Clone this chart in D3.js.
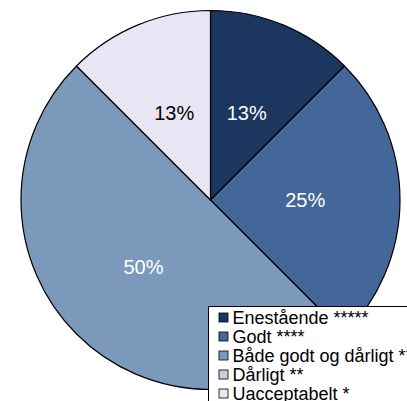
<!DOCTYPE html>
<html>
<head>
<meta charset="utf-8">
<script src="https://cdn.jsdelivr.net/npm/d3@7"></script>
<style>
  body { margin: 0; background: #ffffff; }
  svg { display: block; font-family: Arial, "Liberation Sans", sans-serif; }
</style>
</head>
<body>
<svg id="svg"></svg>
<script>
var categories = ["Enestående *****", "Godt ****", "Både godt og dårligt ***", "Dårligt **", "Uacceptabelt *"];
var values     = [12.5, 25, 50, 0, 12.5];
var labels     = ["13%", "25%", "50%", "", "13%"];
var colors     = ["#1b365f", "#44679a", "#7b9abb", "#c3d0e2", "#e8e6f4"];
var label_fill = ["#ffffff", "#ffffff", "#ffffff", "#000000", "#000000"];

var outer_width  = 407;
var outer_height = 401;
var cx = 210.5, cy = 200, radius = 189.5;

var svg = d3.select("#svg")
	    .attr("width",  outer_width)
	    .attr("height", outer_height);

var data = categories.map(function(c, i) { return {name: c, value: values[i], label: labels[i], i: i}; });

var pie = d3.pie()
	    .sort(null)
	    .value(function(d) { return d.value; });

var arc = d3.arc()
	    .innerRadius(0)
	    .outerRadius(radius);

var label_arc = d3.arc()
	    .innerRadius(radius * 0.5)
	    .outerRadius(radius * 0.5);

var Pie = svg.append("g")
	    .attr("transform", "translate(" + cx + "," + cy + ")");

var arcs = pie(data).filter(function(a) { return a.data.value > 0; });

Pie.selectAll(".slice")
	.data(arcs)
	.enter()
	.append("path")
	.attr("class", "slice")
	.attr("d", arc)
	.attr("fill", function(a) { return colors[a.data.i]; })
	.attr("stroke", "#000000")
	.attr("stroke-width", 1.2)
	.attr("stroke-linejoin", "round");

Pie.selectAll(".lbl")
	.data(arcs)
	.enter()
	.append("text")
	.attr("class", "lbl")
	.attr("transform", function(a) { return "translate(" + label_arc.centroid(a) + ")"; })
	.attr("text-anchor", "middle")
	.attr("dy", "0.36em")
	.attr("font-size", 20)
	.attr("fill", function(a) { return label_fill[a.data.i]; })
	.text(function(a) { return a.data.label; });

// legend, partly cut off at the right edge like the original
var Legend = svg.append("g")
	    .attr("transform", "translate(208.5,306.5)");

Legend.append("rect")
	.attr("width", 220)
	.attr("height", 110)
	.attr("fill", "#ffffff")
	.attr("stroke", "#000000")
	.attr("stroke-width", 1);

var row = d3.scaleBand()
	    .domain(d3.range(categories.length))
	    .range([1.5, 96.5]);

var items = Legend.selectAll(".item")
	    .data(data)
	    .enter()
	    .append("g")
	    .attr("class", "item")
	    .attr("transform", function(d) { return "translate(0," + (row(d.i) + row.bandwidth() / 2) + ")"; });

items.append("rect")
	.attr("x", 10.5)
	.attr("y", -4.5)
	.attr("width", 9)
	.attr("height", 9)
	.attr("fill", function(d) { return colors[d.i]; })
	.attr("stroke", "#000000")
	.attr("stroke-width", 0.8);

items.append("text")
	.attr("x", 24)
	.attr("dy", "0.36em")
	.attr("font-size", 18)
	.attr("fill", "#000000")
	.text(function(d) { return d.name; });
</script>
</body>
</html>
